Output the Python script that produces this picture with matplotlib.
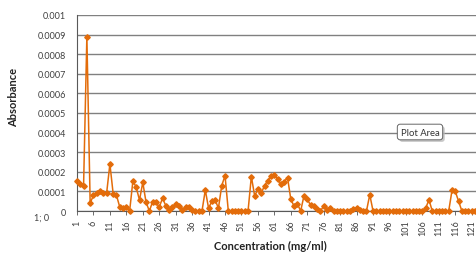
import matplotlib
matplotlib.use("Agg")
import matplotlib.pyplot as plt
import matplotlib.patheffects as pe

# ---- data ----
absorbance = [
    0.000155, 0.00014, 0.00013, 0.00089, 0.00004, 0.00008, 0.00009, 0.0001, 0.00009, 0.00009,   # 1-10
    0.00024, 0.000087, 0.00008, 0.00002, 0.000015, 0.00002, 0.0, 0.000155, 0.00012, 0.000056,  # 11-20
    0.000146, 0.000044, 0.0, 0.000048, 0.000044, 0.00002, 0.000065, 0.000027, 0.000003, 0.00002,  # 21-30
    0.000035, 0.000027, 0.000003, 0.00002, 0.00002, 0.000003, 0.0, 0.0, 0.0, 0.000107,  # 31-40
    0.000014, 0.00005, 0.000055, 0.000015, 0.00013, 0.00018, 0.0, 0.0, 0.0, 0.0,  # 41-50
    0.0, 0.0, 0.0, 0.000176, 0.000078, 0.00011, 0.00009, 0.00013, 0.000155, 0.00018,  # 51-60
    0.000183, 0.000165, 0.000137, 0.00015, 0.00017, 0.00006, 0.000024, 0.000036, 0.0, 0.000078,  # 61-70
    0.00006, 0.00003, 0.000024, 0.00001, 0.0, 0.000025, 0.000005, 0.000017, 0.0, 0.0,  # 71-80
    0.0, 0.0, 0.0, 0.0, 0.00001, 0.000015, 0.000005, 0.0, 0.0, 0.000083,  # 81-90
    0.0, 0.0, 0.0, 0.0, 0.0, 0.0, 0.0, 0.0, 0.0, 0.0,  # 91-100
    0.0, 0.0, 0.0, 0.0, 0.0, 0.0, 0.000015, 0.000057, 0.0, 0.0,  # 101-110
    0.0, 0.0, 0.0, 0.0, 0.000105, 0.0001, 0.00005, 0.0, 0.0, 0.0,  # 111-120
    0.0, 0.0,  # 121-122
]
categories = list(range(1, len(absorbance) + 1))
x_tick_labels = [str(c) for c in range(1, 122, 5)]
y_ticks = [0, 0.0001, 0.0002, 0.0003, 0.0004, 0.0005, 0.0006, 0.0007, 0.0008, 0.0009, 0.001]
y_tick_labels = ["0", "0.0001", "0.0002", "0.0003", "0.0004", "0.0005",
                 "0.0006", "0.0007", "0.0008", "0.0009", "0.001"]

plt.rcParams['font.family'] = ['Lato', 'DejaVu Sans']

W, H = 477, 255
fig = plt.figure(figsize=(W / 100, H / 100), dpi=100)
ax = fig.add_axes([77 / W, 1 - 212 / H, 400 / W, 196 / H])

orange = '#E36C0A'
ax.plot(categories, absorbance, color=orange, lw=1.1, marker='D', ms=2.8,
        mec=orange, mfc=orange, zorder=3, clip_on=False)

ax.set_xlim(1, 122.6)
ax.set_ylim(0, 0.001)
ax.set_yticks(y_ticks)
ax.set_yticklabels(y_tick_labels)
ax.set_xticks([int(s) for s in x_tick_labels])
ax.set_xticklabels(x_tick_labels, rotation=90)
ax.tick_params(axis='y', length=0, labelsize=6.5, labelcolor='#404040', pad=8)
ax.tick_params(axis='x', length=3, width=0.6, color='#555555', labelsize=6.5,
               labelcolor='#404040', pad=3)

ax.grid(axis='y', color='#808080', lw=1.0)
ax.set_axisbelow(True)
for s in ['top', 'right']:
    ax.spines[s].set_visible(False)
ax.spines['left'].set_color('#595959')
ax.spines['bottom'].set_color('#595959')

fig.text(14 / W, 1 - 97 / H, 'Absorbance', rotation=90, fontsize=8,
         fontweight='bold', ha='center', va='center', color='#222222')
fig.text(270 / W, 1 - 246 / H, 'Concentration (mg/ml)', fontsize=8,
         fontweight='bold', ha='center', va='center', color='#222222')
fig.text(42 / W, 1 - 218 / H, '1; 0', fontsize=6.5, ha='center', va='center',
         color='#404040')

# "Plot Area" tooltip with soft shadow
tip = fig.text(420 / W, 1 - 133 / H, 'Plot Area', fontsize=6.8, ha='center',
               va='center', color='#333333', zorder=5,
               bbox=dict(boxstyle='round,pad=0.35,rounding_size=0.3', fc='white',
                         ec='#666666', lw=0.7))
tip.get_bbox_patch().set_path_effects(
    [pe.SimplePatchShadow(offset=(1.5, -1.5), shadow_rgbFace='#bbbbbb', alpha=0.8),
     pe.Normal()])

fig.savefig('out.png', dpi=100)
